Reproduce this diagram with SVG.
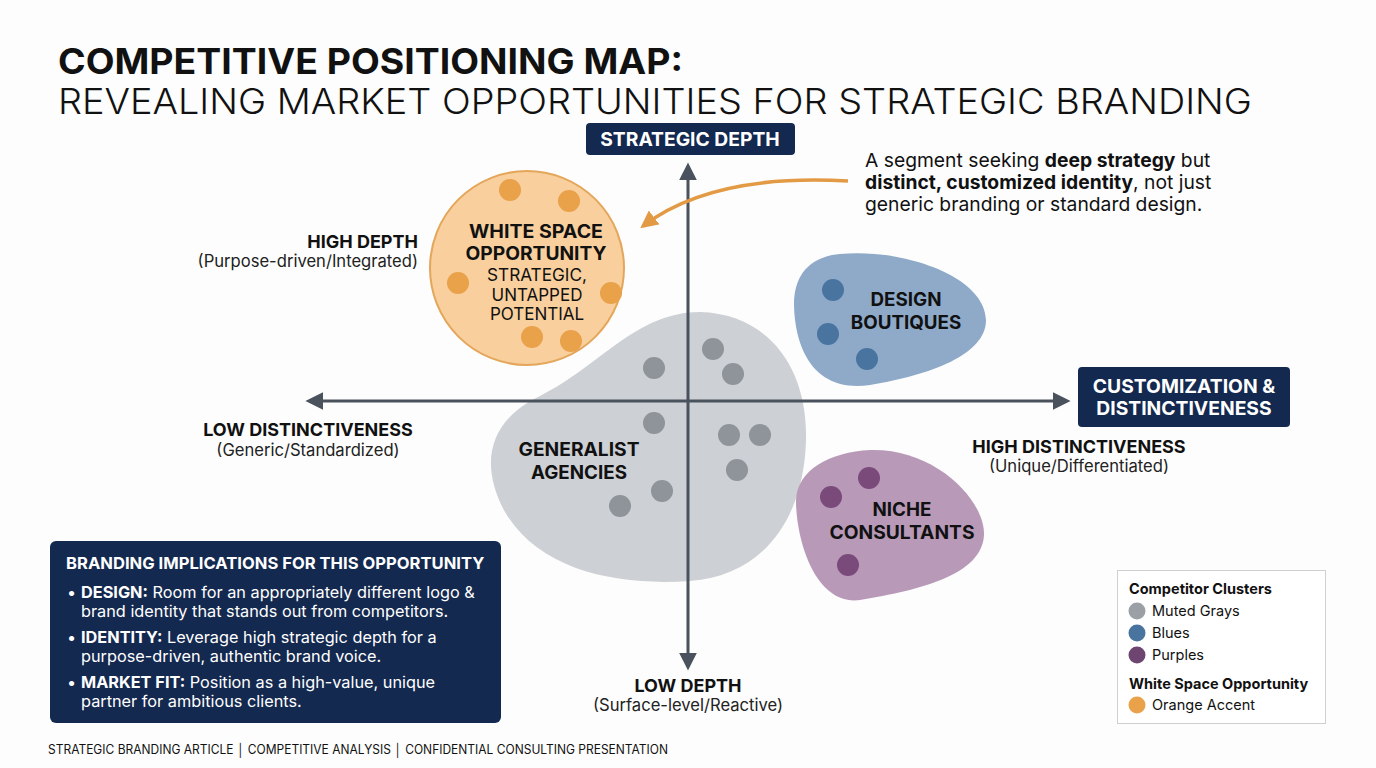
<svg xmlns="http://www.w3.org/2000/svg" width="1376" height="768" viewBox="0 0 1376 768">
<defs>
<style>
text{font-family:Inter,"Liberation Sans",sans-serif;fill:#111}
.b{font-weight:700}
.lab{font-size:18px;font-weight:700;text-anchor:middle}
.sub{font-size:16.6px;text-anchor:middle;fill:#222}
.cl{font-size:18.8px;font-weight:700;text-anchor:middle}
.w{fill:#fff}
.ax{stroke:#4a525e;stroke-width:3;fill:none}
.gd{fill:#8e9499}
.bd{fill:#4a74a0}
.pd{fill:#7a4a7a}
.od{fill:#e9a14a}
.bt{font-size:16.3px;fill:#fff}
.lg{font-size:14.5px}
</style>
<marker id="ah" viewBox="0 0 10 10" refX="8" refY="5" markerWidth="6" markerHeight="6" orient="auto-start-reverse" markerUnits="strokeWidth">
<path d="M0 0 L10 5 L0 10 Z" fill="#4a525e"/>
</marker>
<marker id="oh" viewBox="0 0 10 10" refX="8" refY="5" markerWidth="5" markerHeight="5" orient="auto" markerUnits="strokeWidth">
<path d="M0 0 L10 5 L0 10 Z" fill="#e39a45"/>
</marker>
</defs>
<rect width="1376" height="768" fill="#fdfdfd"/>

<g id="title">
<text x="58" y="74" font-size="35" class="b" textLength="625" lengthAdjust="spacingAndGlyphs">COMPETITIVE POSITIONING MAP:</text>
<text x="58" y="114" font-size="36" font-weight="300" textLength="1194" lengthAdjust="spacingAndGlyphs">REVEALING MARKET OPPORTUNITIES FOR STRATEGIC BRANDING</text>
</g>

<g id="gray-cluster">
<path d="M700 312 C770 314 808 370 806 440 C804 520 762 576 690 581 C620 586 540 572 505 512 C478 462 490 420 540 396 C600 366 636 312 700 312 Z" fill="#cdd0d4"/>
<circle class="gd" cx="654" cy="368" r="11"/>
<circle class="gd" cx="713" cy="349" r="11"/>
<circle class="gd" cx="733" cy="374" r="11"/>
<circle class="gd" cx="654" cy="423" r="11"/>
<circle class="gd" cx="729" cy="435" r="11"/>
<circle class="gd" cx="760" cy="435" r="11"/>
<circle class="gd" cx="737" cy="470" r="11"/>
<circle class="gd" cx="662" cy="491" r="11"/>
<circle class="gd" cx="620" cy="506" r="11"/>
<text class="cl" x="579" y="456" textLength="121" lengthAdjust="spacingAndGlyphs">GENERALIST</text>
<text class="cl" x="579" y="479">AGENCIES</text>
</g>

<g id="blue-cluster">
<path d="M840 254 C900 248 985 275 986 320 C986 355 930 375 870 385 C815 393 795 350 794 305 C794 270 815 256 840 254 Z" fill="#8eaac8"/>
<circle class="bd" cx="833" cy="290" r="11"/>
<circle class="bd" cx="828" cy="334" r="11"/>
<circle class="bd" cx="867" cy="359" r="11"/>
<text class="cl" x="906" y="306">DESIGN</text>
<text class="cl" x="906" y="329">BOUTIQUES</text>
</g>

<g id="purple-cluster">
<path d="M870 450 C935 448 985 500 984 535 C982 575 920 590 860 600 C815 606 796 540 796 500 C797 470 830 452 870 450 Z" fill="#b89ab8"/>
<circle class="pd" cx="869" cy="478" r="11"/>
<circle class="pd" cx="831" cy="497" r="11"/>
<circle class="pd" cx="848" cy="565" r="11"/>
<text class="cl" x="902" y="516">NICHE</text>
<text class="cl" x="902" y="539" textLength="145" lengthAdjust="spacingAndGlyphs">CONSULTANTS</text>
</g>

<g id="connectors">
<line class="ax" x1="688" y1="667" x2="688" y2="166" marker-end="url(#ah)" marker-start="url(#ah)"/>
<line class="ax" x1="309" y1="401" x2="1067" y2="401" marker-end="url(#ah)" marker-start="url(#ah)"/>
<path d="M848 181 C760 176 690 190 643 226" stroke="#e39a45" stroke-width="3.5" fill="none" marker-end="url(#oh)"/>
</g>

<g id="white-space">
<circle cx="527" cy="268" r="97" fill="#f8cf9d" stroke="#e3a65a" stroke-width="2"/>
<circle class="od" cx="510" cy="190" r="11"/>
<circle class="od" cx="569" cy="201" r="11"/>
<circle class="od" cx="458" cy="283" r="11"/>
<circle class="od" cx="611" cy="293" r="11"/>
<circle class="od" cx="532" cy="337" r="11"/>
<circle class="od" cx="571" cy="341" r="11"/>
<text class="cl" x="536" y="238" textLength="134" lengthAdjust="spacingAndGlyphs">WHITE SPACE</text>
<text class="cl" x="536" y="260" textLength="141" lengthAdjust="spacingAndGlyphs">OPPORTUNITY</text>
<text x="537" y="281" font-size="17" text-anchor="middle" textLength="100" lengthAdjust="spacingAndGlyphs">STRATEGIC,</text>
<text x="537" y="301" font-size="17" text-anchor="middle">UNTAPPED</text>
<text x="537" y="320" font-size="17" text-anchor="middle">POTENTIAL</text>
</g>

<g id="y-axis-label">
<rect x="586" y="123" width="209" height="32" rx="4" fill="#14294f"/>
<text x="690" y="146" font-size="19.3" class="b w" text-anchor="middle">STRATEGIC DEPTH</text>
</g>

<g id="x-axis-label">
<rect x="1078" y="367" width="212" height="60" rx="4" fill="#14294f"/>
<text x="1184" y="393" font-size="19.3" class="b w" text-anchor="middle">CUSTOMIZATION &amp;</text>
<text x="1184" y="415" font-size="19.3" class="b w" text-anchor="middle">DISTINCTIVENESS</text>
</g>

<g id="annotation">
<text x="865" y="167" font-size="19.3">A segment seeking <tspan class="b">deep strategy</tspan> but</text>
<text x="865" y="189" font-size="19.3"><tspan class="b">distinct, customized identity</tspan>, not just</text>
<text x="865" y="211" font-size="19.3">generic branding or standard design.</text>
</g>

<g id="axis-ends">
<text class="lab" x="418" y="248" style="text-anchor:end">HIGH DEPTH</text>
<text class="sub" x="418" y="267" style="text-anchor:end">(Purpose-driven/Integrated)</text>
<text class="lab" x="308" y="436">LOW DISTINCTIVENESS</text>
<text class="sub" x="308" y="456">(Generic/Standardized)</text>
<text class="lab" x="1079" y="453">HIGH DISTINCTIVENESS</text>
<text class="sub" x="1079" y="472">(Unique/Differentiated)</text>
<text class="lab" x="688" y="692">LOW DEPTH</text>
<text class="sub" x="688" y="711">(Surface-level/Reactive)</text>
</g>

<g id="implications">
<rect x="50" y="541" width="451" height="182" rx="6" fill="#14294f"/>
<text x="66" y="569" font-size="16.6" class="b w">BRANDING IMPLICATIONS FOR THIS OPPORTUNITY</text>
<text class="bt" x="67" y="598">•</text>
<text class="bt" x="81" y="598"><tspan class="b">DESIGN:</tspan> Room for an appropriately different logo &amp;</text>
<text class="bt" x="81" y="617">brand identity that stands out from competitors.</text>
<text class="bt" x="67" y="643">•</text>
<text class="bt" x="81" y="643"><tspan class="b">IDENTITY:</tspan> Leverage high strategic depth for a</text>
<text class="bt" x="81" y="662">purpose-driven, authentic brand voice.</text>
<text class="bt" x="67" y="688">•</text>
<text class="bt" x="81" y="688"><tspan class="b">MARKET FIT:</tspan> Position as a high-value, unique</text>
<text class="bt" x="81" y="707">partner for ambitious clients.</text>
</g>

<g id="legend">
<rect x="1117.5" y="570.5" width="208" height="153" fill="#fff" stroke="#cfcfcf"/>
<text class="lg b" x="1129" y="594">Competitor Clusters</text>
<circle cx="1137" cy="611" r="8.5" fill="#9ba0a6"/>
<text class="lg" x="1152" y="616">Muted Grays</text>
<circle cx="1137" cy="633" r="8.5" fill="#4a74a0"/>
<text class="lg" x="1152" y="638">Blues</text>
<circle cx="1137" cy="655" r="8.5" fill="#6e4470"/>
<text class="lg" x="1152" y="660">Purples</text>
<text class="lg b" x="1129" y="689">White Space Opportunity</text>
<circle cx="1137" cy="705" r="8.5" fill="#e9a14a"/>
<text class="lg" x="1152" y="710">Orange Accent</text>
</g>

<g id="footer">
<text x="48" y="754" font-size="12.5" fill="#222" textLength="620" lengthAdjust="spacingAndGlyphs">STRATEGIC BRANDING ARTICLE │ COMPETITIVE ANALYSIS │ CONFIDENTIAL CONSULTING PRESENTATION</text>
</g>
</svg>
